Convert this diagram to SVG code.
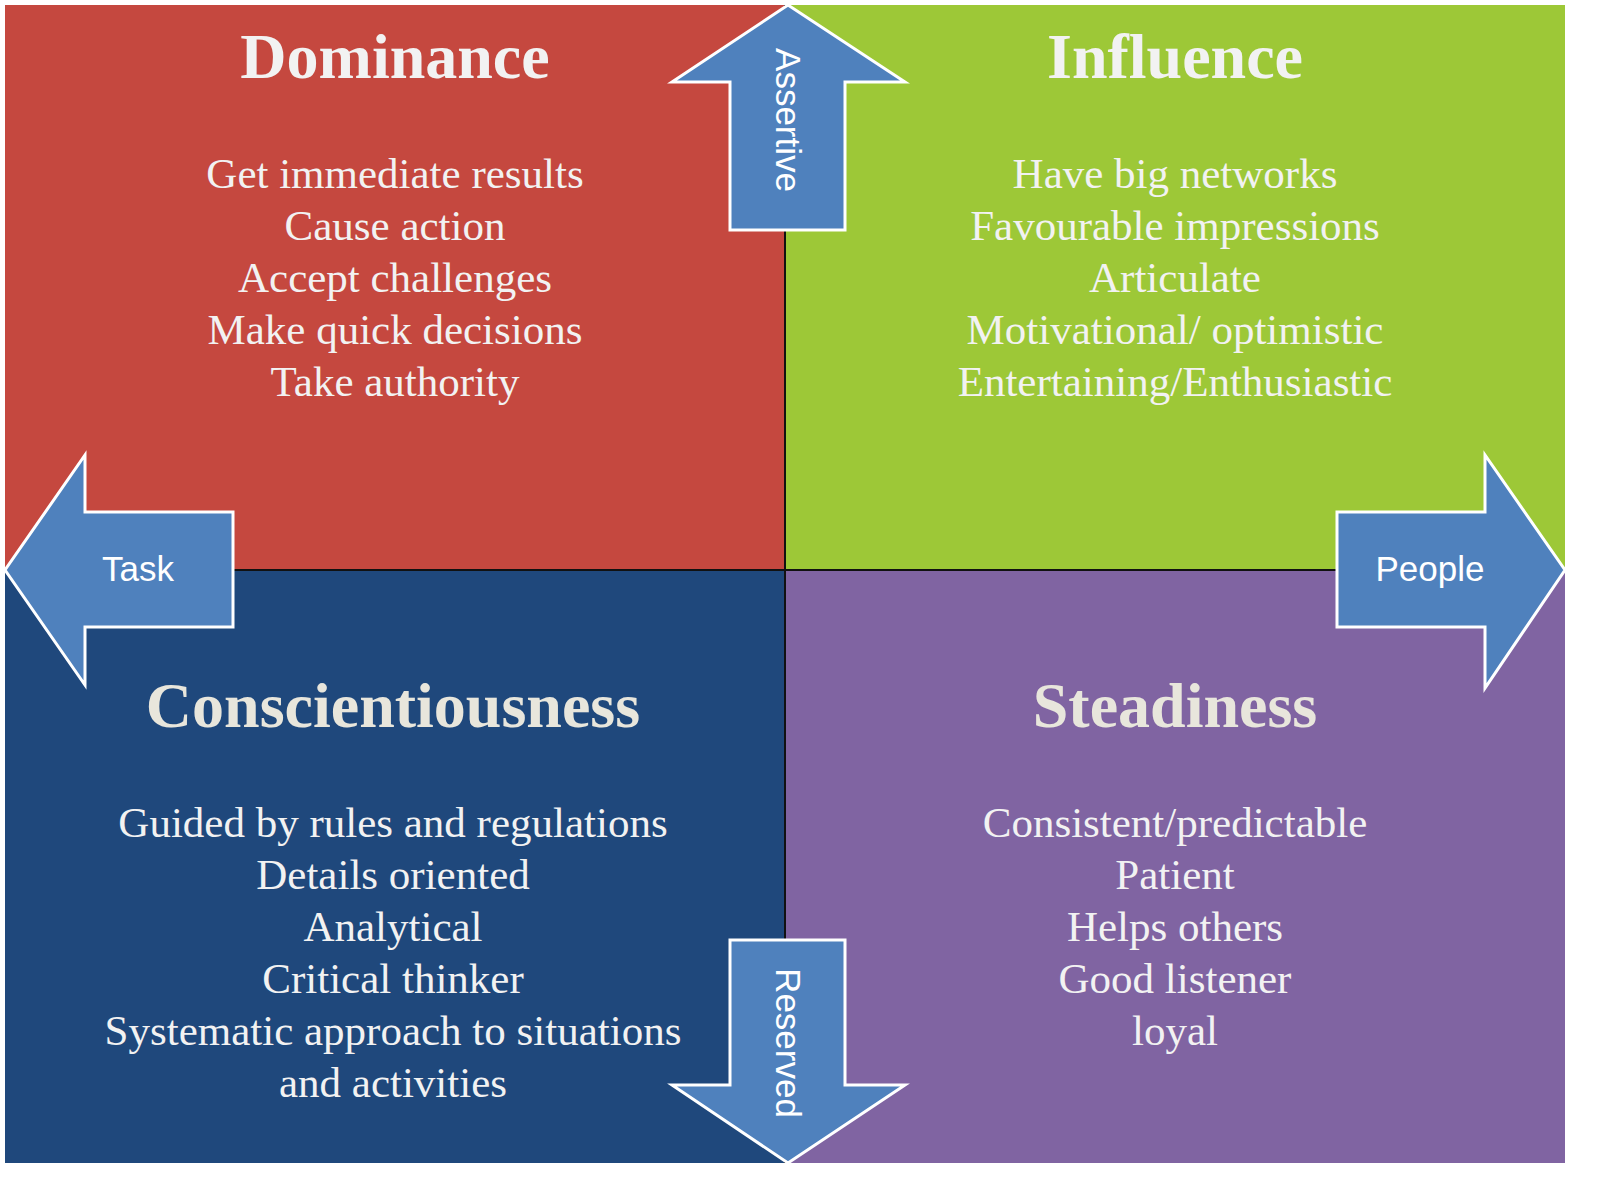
<svg xmlns="http://www.w3.org/2000/svg" width="1600" height="1190" viewBox="0 0 1600 1190">
<style>
.t{font-family:"Liberation Serif",serif;font-weight:bold;font-size:64px;text-anchor:middle}
.b{font-family:"Liberation Serif",serif;font-size:43px;fill:#F2F2F2;text-anchor:middle}
.a{fill:#4F81BD;stroke:#FFFFFF;stroke-width:3}
.l{font-family:"Liberation Sans",sans-serif;font-size:35px;fill:#FFFFFF;text-anchor:middle}
</style>
<rect width="1600" height="1190" fill="#FFFFFF"/>
<g id="dominance"><rect x="5" y="5" width="780" height="565" fill="#C5483F"/>
<text class="t" x="395" y="78" fill="#F2F2F2">Dominance</text>
<text class="b" x="395" y="188">Get immediate results</text>
<text class="b" x="395" y="240">Cause action</text>
<text class="b" x="395" y="292">Accept challenges</text>
<text class="b" x="395" y="344">Make quick decisions</text>
<text class="b" x="395" y="396">Take authority</text></g>
<g id="influence"><rect x="785" y="5" width="780" height="565" fill="#9DC837"/>
<text class="t" x="1175" y="78" fill="#F2F2F2">Influence</text>
<text class="b" x="1175" y="188">Have big networks</text>
<text class="b" x="1175" y="240">Favourable impressions</text>
<text class="b" x="1175" y="292">Articulate</text>
<text class="b" x="1175" y="344">Motivational/ optimistic</text>
<text class="b" x="1175" y="396">Entertaining/Enthusiastic</text></g>
<g id="conscientiousness"><rect x="5" y="570" width="780" height="593" fill="#1F487C"/>
<text class="t" x="393" y="727" fill="#E8E6DC">Conscientiousness</text>
<text class="b" x="393" y="837">Guided by rules and regulations</text>
<text class="b" x="393" y="889">Details oriented</text>
<text class="b" x="393" y="941">Analytical</text>
<text class="b" x="393" y="993">Critical thinker</text>
<text class="b" x="393" y="1045">Systematic approach to situations</text>
<text class="b" x="393" y="1097">and activities</text></g>
<g id="steadiness"><rect x="785" y="570" width="780" height="593" fill="#8064A2"/>
<text class="t" x="1175" y="727" fill="#E8E6DC">Steadiness</text>
<text class="b" x="1175" y="837">Consistent/predictable</text>
<text class="b" x="1175" y="889">Patient</text>
<text class="b" x="1175" y="941">Helps others</text>
<text class="b" x="1175" y="993">Good listener</text>
<text class="b" x="1175" y="1045">loyal</text></g>
<g id="connectors">
<line x1="785" y1="5" x2="785" y2="1163" stroke="#111" stroke-width="2"/>
<line x1="5" y1="570" x2="1565" y2="570" stroke="#111" stroke-width="2"/>
</g>
<g id="assertive"><polygon class="a" points="730,230 845,230 845,82 905,82 788,5 672,82 730,82"/>
<text class="l" transform="translate(776,120) rotate(90)">Assertive</text></g>
<g id="reserved"><polygon class="a" points="730,940 845,940 845,1085 905,1085 788,1163 672,1085 730,1085"/>
<text class="l" transform="translate(776,1043) rotate(90)">Reserved</text></g>
<g id="task"><polygon class="a" points="233,512 233,627 85,627 85,685 5,570 85,455 85,512"/>
<text class="l" x="138" y="581">Task</text></g>
<g id="people"><polygon class="a" points="1337,512 1337,627 1485,627 1485,688 1565,570 1485,455 1485,512"/>
<text class="l" x="1430" y="581">People</text></g>
</svg>
